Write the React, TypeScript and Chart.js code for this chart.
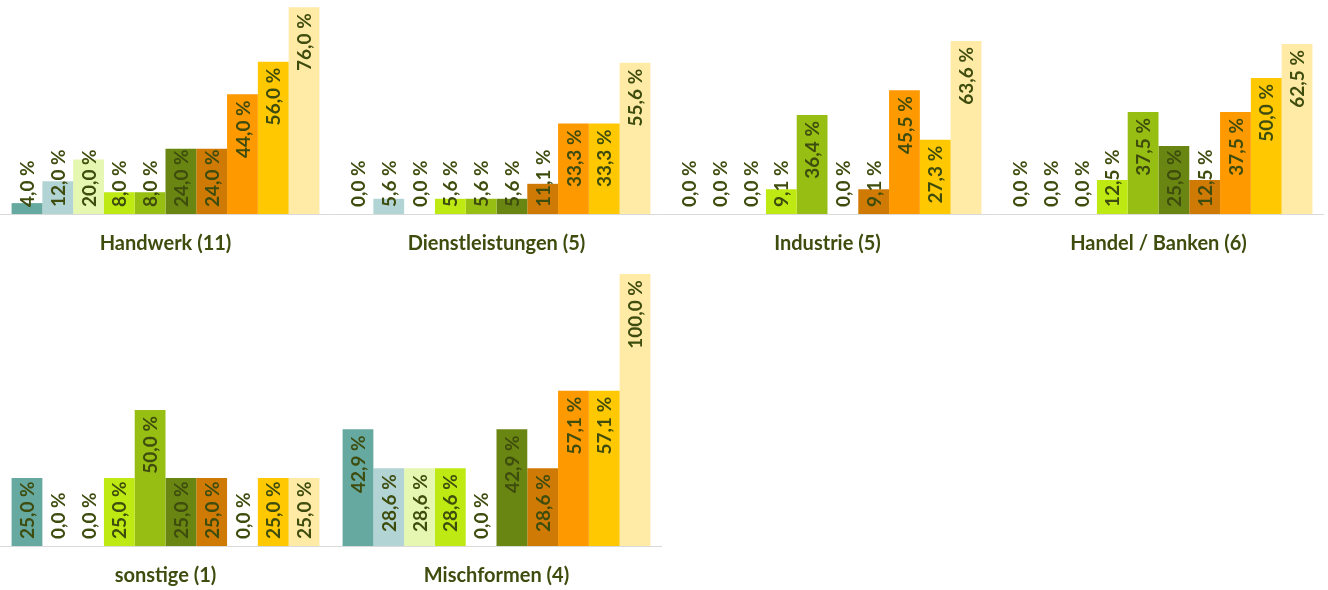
import React, { useEffect, useRef } from "react";
import { Chart, registerables } from "chart.js";

Chart.register(...registerables);

const topCategories = ["Handwerk (11)", "Dienstleistungen (5)", "Industrie (5)", "Handel / Banken (6)"];
const bottomCategories = ["sonstige (1)", "Mischformen (4)"];

const handwerk = [4.0, 12.0, 20.0, 8.0, 8.0, 24.0, 24.0, 44.0, 56.0, 76.0];
const dienstleistungen = [0.0, 5.6, 0.0, 5.6, 5.6, 5.6, 11.1, 33.3, 33.3, 55.6];
const industrie = [0.0, 0.0, 0.0, 9.1, 36.4, 0.0, 9.1, 45.5, 27.3, 63.6];
const handelBanken = [0.0, 0.0, 0.0, 12.5, 37.5, 25.0, 12.5, 37.5, 50.0, 62.5];
const sonstige = [25.0, 0.0, 0.0, 25.0, 50.0, 25.0, 25.0, 0.0, 25.0, 25.0];
const mischformen = [42.9, 28.6, 28.6, 28.6, 0.0, 42.9, 28.6, 57.1, 57.1, 100.0];

const topValues = [handwerk, dienstleistungen, industrie, handelBanken];
const bottomValues = [sonstige, mischformen];

const seriesColors = [
  "#66A9A1",
  "#B2D4D4",
  "#E5F7B0",
  "#BEE912",
  "#97BE12",
  "#6A8612",
  "#CF7A05",
  "#FF9900",
  "#FFC800",
  "#FFEAA6",
];

const TEXT_COLOR = "#3E4C0E";
const FONT_FAMILY = "Lato, Carlito, Calibri, 'Open Sans', sans-serif";

const valueLabelPlugin = {
  id: "valueLabels",
  afterDatasetsDraw(chart: any) {
    const ctx = chart.ctx;
    ctx.save();
    ctx.font = `bold 19px ${FONT_FAMILY}`;
    ctx.fillStyle = TEXT_COLOR;
    ctx.textAlign = "center";
    ctx.textBaseline = "middle";
    chart.data.datasets.forEach((ds: any, di: number) => {
      const meta = chart.getDatasetMeta(di);
      meta.data.forEach((bar: any, i: number) => {
        const v = ds.data[i] as number;
        const text = v.toFixed(1).replace(".", ",") + " %";
        const w = ctx.measureText(text).width;
        const top = Math.min(bar.y, bar.base);
        const cy = Math.min(top + 6 + w / 2, bar.base - 7 - w / 2);
        ctx.save();
        ctx.translate(bar.x + 1, cy);
        ctx.rotate(-Math.PI / 2);
        ctx.fillText(text, 0, 0);
        ctx.restore();
      });
    });
    ctx.restore();
  },
};

function buildDatasets(values: number[][]) {
  return seriesColors.map((color, s) => ({
    data: values.map((row) => row[s]),
    backgroundColor: color,
    borderWidth: 0,
    categoryPercentage: 0.93,
    barPercentage: 1.0,
  }));
}

function PanelChart(props: { labels: string[]; values: number[][]; yMax: number; width: number; height: number; top: number }) {
  const ref = useRef<HTMLCanvasElement | null>(null);
  useEffect(() => {
    if (!ref.current) return;
    const chart = new Chart(ref.current, {
      type: "bar",
      data: { labels: props.labels, datasets: buildDatasets(props.values) as any },
      options: {
        animation: false,
        responsive: false,
        devicePixelRatio: 1,
        layout: { padding: 0 },
        plugins: { legend: { display: false }, tooltip: { enabled: false } },
        scales: {
          x: {
            grid: { display: false, drawTicks: false },
            border: { display: true, color: "#D9D9D9", width: 1 },
            ticks: {
              padding: 18,
              color: TEXT_COLOR,
              font: { family: FONT_FAMILY, size: 20, weight: "bold" },
              maxRotation: 0,
              autoSkip: false,
            },
          },
          y: {
            display: false,
            min: 0,
            max: props.yMax,
          },
        },
      },
      plugins: [valueLabelPlugin],
    });
    return () => chart.destroy();
  }, []);
  return (
    <div style={{ position: "absolute", left: 0, top: props.top, width: props.width, height: props.height }}>
      <canvas ref={ref} width={props.width} height={props.height} />
    </div>
  );
}

export default function App() {
  return (
    <div style={{ position: "absolute", left: 0, top: 0, width: 1328, height: 590, background: "#FFFFFF" }}>
      <PanelChart labels={topCategories} values={topValues} yMax={78.68} width={1324} height={274} top={0} />
      <PanelChart labels={bottomCategories} values={bottomValues} yMax={101.5} width={662} height={336} top={270} />
    </div>
  );
}
